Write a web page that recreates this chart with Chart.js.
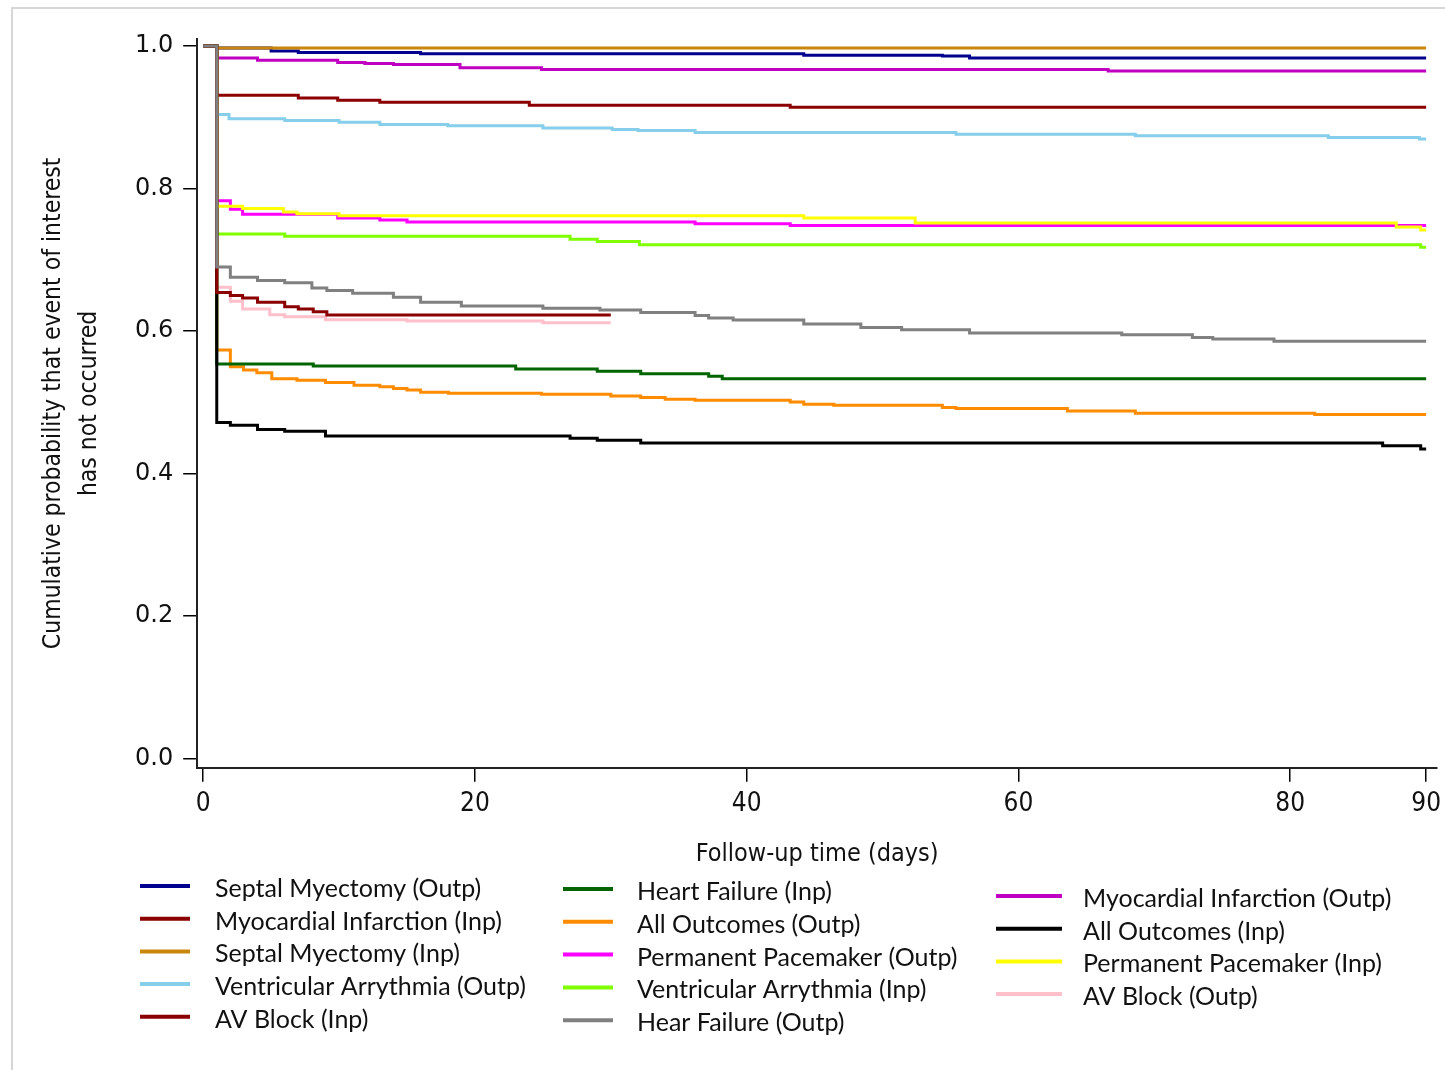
<!DOCTYPE html>
<html lang="en">
  <head>
    <meta charset="UTF-8">
    <script src="https://cdn.jsdelivr.net/npm/chart.js"></script>
    <style>
      html, body { margin: 0; padding: 0; background: #fff; }
      #kmChart { display: block; }
    </style>
  </head>
  <body>
    <canvas id="kmChart" width="1445" height="1070"></canvas>

    <script>
      // Kaplan-Meier style curves: [day, probability event not occurred]
      const septalMyectomyOutp = [[0,1],[1,0.997],[5,0.993],[7,0.991],[16,0.989],[44.2,0.987],[54.4,0.986],[56.4,0.983],[90,0.983]];
      const myocardialInfarctionInp = [[0,1],[1,0.931],[7,0.927],[9.9,0.924],[13,0.921],[24,0.917],[43.2,0.914],[90,0.914]];
      const septalMyectomyInp = [[0,1],[1,0.997],[90,0.997]];
      const ventricularArrythmiaOutp = [[0,1],[1,0.904],[1.9,0.898],[6,0.8955],[10,0.893],[13,0.890],[18,0.888],[25,0.885],[30.1,0.883],[32,0.8814],[36.2,0.8785],[55.4,0.876],[68.6,0.874],[82.8,0.8715],[89.5,0.8696],[90,0.8696]];
      const avBlockInp = [[0,1],[1,0.654],[2,0.65],[2.9,0.6465],[4,0.6404],[6,0.6343],[7,0.631],[8.1,0.6273],[9.1,0.6226],[30,0.6226]];
      const heartFailureInp = [[0,1],[1,0.5537],[8.1,0.551],[23,0.547],[29,0.5437],[32.2,0.540],[37.2,0.5368],[38.2,0.533],[90,0.533]];
      const allOutcomesOutp = [[0,1],[1,0.5734],[2,0.550],[2.97,0.5453],[3.95,0.5415],[5.05,0.533],[6.9,0.5312],[9,0.5279],[11.1,0.5242],[13,0.5218],[14,0.5194],[15,0.5172],[16,0.5143],[18.05,0.5129],[24.9,0.5115],[30,0.509],[32.2,0.5068],[34,0.5045],[36.2,0.503],[43.2,0.5007],[44.2,0.4974],[46.4,0.496],[54.4,0.4927],[55.4,0.4913],[63.6,0.488],[68.6,0.4848],[81.8,0.4829],[90,0.4829]];
      const permanentPacemakerOutp = [[0,1],[1,0.783],[2,0.771],[2.9,0.764],[9.9,0.7585],[13,0.756],[15,0.753],[36.2,0.7505],[43.2,0.748],[90,0.748]];
      const ventricularArrythmiaInp = [[0,1],[1,0.7364],[6,0.733],[27,0.729],[29,0.7257],[32.1,0.721],[89.6,0.7177],[90,0.7177]];
      const hearFailureOutp = [[0,1],[1,0.69],[2,0.6755],[4,0.671],[6,0.668],[8,0.6606],[9.1,0.657],[11,0.653],[14,0.6474],[16,0.6404],[19,0.6353],[25,0.632],[29.2,0.6296],[32.2,0.626],[36.2,0.622],[37.2,0.6184],[39,0.6155],[44.2,0.610],[48.4,0.605],[51.4,0.602],[56.4,0.5973],[67.6,0.595],[72.8,0.591],[74.3,0.589],[78.8,0.5856],[90,0.5856]];
      const myocardialInfarctionOutp = [[0,1],[1,0.983],[4,0.980],[9.9,0.977],[11.9,0.9755],[14,0.974],[18.9,0.9695],[24.9,0.967],[66.6,0.965],[90,0.965]];
      const allOutcomesInp = [[0,1],[1,0.4716],[2,0.4678],[4,0.4618],[6,0.4595],[9,0.4529],[27,0.4496],[29,0.4468],[32.2,0.443],[86.8,0.439],[89.6,0.4346],[90,0.4346]];
      const permanentPacemakerInp = [[0,1],[1,0.775],[2.9,0.772],[5.9,0.767],[6.9,0.7646],[10,0.762],[44.2,0.7585],[52.4,0.7515],[87.8,0.746],[89.6,0.742],[90,0.742]];
      const avBlockOutp = [[0,1],[1,0.6614],[2,0.6418],[2.9,0.631],[4.9,0.623],[6,0.6203],[9,0.616],[15,0.614],[25,0.6118],[30,0.6118]];

      const seriesLabels = [
        'Septal Myectomy (Outp)', 'Myocardial Infarction (Inp)', 'Septal Myectomy (Inp)',
        'Ventricular Arrythmia (Outp)', 'AV Block (Inp)',
        'Heart Failure (Inp)', 'All Outcomes (Outp)', 'Permanent Pacemaker (Outp)',
        'Ventricular Arrythmia (Inp)', 'Hear Failure (Outp)',
        'Myocardial Infarction (Outp)', 'All Outcomes (Inp)', 'Permanent Pacemaker (Inp)',
        'AV Block (Outp)'
      ];
      const seriesData = [
        septalMyectomyOutp, myocardialInfarctionInp, septalMyectomyInp,
        ventricularArrythmiaOutp, avBlockInp,
        heartFailureInp, allOutcomesOutp, permanentPacemakerOutp,
        ventricularArrythmiaInp, hearFailureOutp,
        myocardialInfarctionOutp, allOutcomesInp, permanentPacemakerInp,
        avBlockOutp
      ];
      const xTicks = [0, 20, 40, 60, 80, 90];
      const yTicks = [0, 0.2, 0.4, 0.6, 0.8, 1.0];

      const seriesColors = [
        '#00008E', '#8B0000', '#C8860A', '#87CEEB', '#8B0000',
        '#006400', '#FF8C00', '#FF00FF', '#7FFF00', '#808080',
        '#C000C0', '#000000', '#FFFF00', '#FFC0CB'
      ];
      // lower = drawn on top
      const drawOrder = [5, 5, 3, 5, 1, 5, 5, 5, 5, 0, 5, 2, 4, 5];

      const narrow = "'DejaVu Sans Condensed', 'Liberation Sans Narrow', 'Roboto Condensed', sans-serif";

      const framePlugin = {
        id: 'frame',
        beforeDraw(chart) {
          const ctx = chart.ctx;
          ctx.save();
          ctx.strokeStyle = '#d6d6d6';
          ctx.lineWidth = 2;
          ctx.beginPath();
          ctx.moveTo(12, 1070);
          ctx.lineTo(12, 8);
          ctx.lineTo(1445, 8);
          ctx.stroke();
          ctx.restore();
        }
      };

      const legendPlugin = {
        id: 'columnLegend',
        afterDraw(chart) {
          const ctx = chart.ctx;
          const cols = [
            { items: [0, 1, 2, 3, 4], lineX: 140, lineW: 50, textX: 215, y0: 889, dy: 32.7 },
            { items: [5, 6, 7, 8, 9], lineX: 563, lineW: 50, textX: 637, y0: 892, dy: 32.8 },
            { items: [10, 11, 12, 13], lineX: 996, lineW: 66, textX: 1083, y0: 899, dy: 32.7 }
          ];
          ctx.save();
          ctx.font = '25px Lato';
          ctx.textBaseline = 'middle';
          ctx.fillStyle = '#111';
          cols.forEach(col => col.items.forEach((idx, r) => {
            const ds = chart.data.datasets[idx];
            const y = col.y0 + r * col.dy;
            ctx.strokeStyle = ds.borderColor;
            ctx.lineWidth = 4;
            ctx.beginPath();
            ctx.moveTo(col.lineX, y - 3);
            ctx.lineTo(col.lineX + col.lineW, y - 3);
            ctx.stroke();
            ctx.fillText(ds.label, col.textX, y);
          }));
          ctx.restore();
        }
      };

      const ctx = document.getElementById('kmChart').getContext('2d');

      new Chart(ctx, {
        type: 'line',
        data: {
          datasets: seriesData.map((pts, i) => ({
            label: seriesLabels[i],
            data: pts.map(p => ({ x: p[0], y: p[1] })),
            borderColor: seriesColors[i],
            backgroundColor: seriesColors[i],
            borderWidth: 3,
            stepped: true,
            pointRadius: 0,
            fill: false,
            order: drawOrder[i]
          }))
        },
        options: {
          responsive: false,
          devicePixelRatio: 1,
          animation: false,
          layout: { padding: { left: 36, top: 39, right: 8, bottom: 201 } },
          plugins: {
            legend: { display: false },
            tooltip: { enabled: false }
          },
          scales: {
            x: {
              type: 'linear',
              min: -0.44,
              max: 90.8,
              afterBuildTicks: axis => { axis.ticks = xTicks.map(v => ({ value: v })); },
              afterFit: axis => { axis.paddingRight = 0; axis.paddingLeft = 0; },
              border: { display: true, color: '#222', width: 2 },
              grid: { drawOnChartArea: false, drawTicks: true, tickLength: 14, color: '#000', lineWidth: 1.5 },
              ticks: {
                padding: 7,
                maxRotation: 0,
                autoSkip: false,
                color: '#111',
                font: { family: narrow, size: 26 },
                callback: v => String(v)
              },
              title: {
                display: true,
                text: 'Follow-up time (days)',
                color: '#111',
                font: { family: narrow, size: 25 },
                padding: { top: 12, bottom: 0 }
              }
            },
            y: {
              type: 'linear',
              min: -0.01266,
              max: 1.0098,
              afterBuildTicks: axis => { axis.ticks = yTicks.map(v => ({ value: v })); },
              border: { display: true, color: '#222', width: 2 },
              grid: { drawOnChartArea: false, drawTicks: true, tickLength: 14, color: '#000', lineWidth: 1.5 },
              ticks: {
                padding: 10,
                autoSkip: false,
                color: '#111',
                font: { family: "'DejaVu Sans', sans-serif", size: 24 },
                callback: v => Number(v).toFixed(1)
              },
              title: {
                display: true,
                text: ['Cumulative probability that event of interest', 'has not occurred'],
                color: '#111',
                font: { family: narrow, size: 24.5, lineHeight: 1.47 },
                padding: { top: 0, bottom: 17 }
              }
            }
          }
        },
        plugins: [framePlugin, legendPlugin]
      });
    </script>
  </body>
</html>
